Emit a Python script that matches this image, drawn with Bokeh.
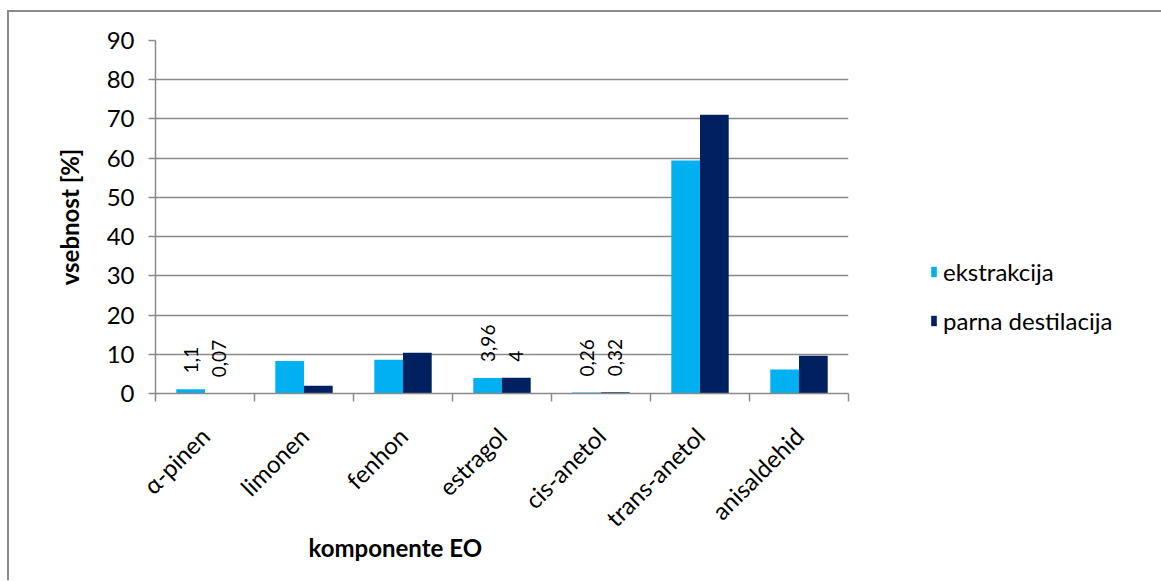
import math
from bokeh.plotting import figure
from bokeh.models import ColumnDataSource, Range1d, FixedTicker, Legend, LegendItem, Title
from bokeh.core.properties import value
from bokeh.embed import file_html
from bokeh.resources import INLINE

categories = ["α-pinen", "limonen", "fenhon", "estragol", "cis-anetol", "trans-anetol", "anisaldehid"]
ekstrakcija = [1.1, 8.3, 8.6, 3.96, 0.26, 59.4, 6.1]
parna_destilacija = [0.07, 2.0, 10.4, 4.0, 0.32, 71.1, 9.6]
label_shown = [True, False, False, True, True, False, False]
series_names = ["ekstrakcija", "parna destilacija"]
y_ticks = [0, 10, 20, 30, 40, 50, 60, 70, 80, 90]

FONT = "Lato"
C1 = "#00B0F0"
C2 = "#002060"
GRAY = "#8a8a8a"
BW = 0.29

n = len(categories)
centers = [i + 0.5 for i in range(n)]

src = ColumnDataSource(dict(
    x1=[c - BW / 2 for c in centers],
    x2=[c + BW / 2 for c in centers],
    e=ekstrakcija,
    d=parna_destilacija,
))

lx, ly, lt = [], [], []
for i in range(n):
    if label_shown[i]:
        lx += [centers[i] - BW / 2, centers[i] + BW / 2]
        ly += [ekstrakcija[i], parna_destilacija[i]]
        lt += [f"{ekstrakcija[i]:g}".replace(".", ","), f"{parna_destilacija[i]:g}".replace(".", ",")]
lsrc = ColumnDataSource(dict(x=lx, y=ly, t=lt))

p = figure(
    frame_width=693, frame_height=353,
    x_range=Range1d(0, n), y_range=Range1d(0, 90),
    output_backend="svg", toolbar_location=None,
    min_border_left=146, min_border_top=28, min_border_right=313, min_border_bottom=187,
)
p.margin = (10, 0, 0, 7)
p.styles = {"border-left": f"2px solid {GRAY}", "border-top": f"2px solid {GRAY}"}
p.outline_line_color = None
p.background_fill_color = "white"
p.border_fill_color = "white"

r1 = p.vbar(x="x1", top="e", width=BW, source=src, fill_color=C1, line_color=None)
r2 = p.vbar(x="x2", top="d", width=BW, source=src, fill_color=C2, line_color=None)

p.text(x="x", y="y", text="t", source=lsrc, angle=math.pi / 2, text_align="left",
       text_baseline="middle", y_offset=-16, text_font=value(FONT),
       text_font_size="19px", text_color="black")

# grid
p.xgrid.grid_line_color = None
p.ygrid.grid_line_color = GRAY
p.ygrid.grid_line_width = 1.5
p.ygrid.ticker = FixedTicker(ticks=y_ticks)

# y axis
ya = p.yaxis[0]
ya.ticker = FixedTicker(ticks=y_ticks)
ya.axis_line_color = GRAY
ya.axis_line_width = 1.5
ya.major_tick_line_color = GRAY
ya.major_tick_line_width = 1.5
ya.major_tick_out = 7
ya.major_tick_in = 0
ya.minor_tick_line_color = None
ya.major_label_standoff = 14
ya.major_label_text_font = FONT
ya.major_label_text_font_size = "24px"
ya.major_label_text_color = "black"
ya.axis_label = "vsebnost [%]"
ya.axis_label_text_font = FONT
ya.axis_label_text_font_size = "24px"
ya.axis_label_text_font_style = "bold"
ya.axis_label_text_color = "black"
ya.axis_label_standoff = 20

# x axis
xa = p.xaxis[0]
xa.ticker = FixedTicker(ticks=centers, minor_ticks=list(range(n + 1)))
xa.major_label_overrides = {c: categories[i] for i, c in enumerate(centers)}
xa.major_label_orientation = math.pi / 4
xa.axis_line_color = GRAY
xa.axis_line_width = 1.5
xa.major_tick_line_color = None
xa.major_tick_out = 0
xa.major_tick_in = 0
xa.minor_tick_line_color = GRAY
xa.minor_tick_line_width = 1.5
xa.minor_tick_out = 8
xa.minor_tick_in = 0
xa.major_label_standoff = 30
xa.major_label_text_font = FONT
xa.major_label_text_font_size = "24px"
xa.major_label_text_color = "black"

p.add_layout(Title(text="komponente EO", align="left", offset=153, standoff=-30,
                   text_font=FONT, text_font_size="24px", text_font_style="bold",
                   text_color="black"), "below")

legend = Legend(items=[LegendItem(label=series_names[0], renderers=[r1]),
                       LegendItem(label=series_names[1], renderers=[r2])],
                location=(82, 58))
legend.border_line_color = None
legend.background_fill_alpha = 0
legend.padding = 0
legend.margin = 0
legend.spacing = 19
legend.label_height = 30
legend.glyph_width = 7
legend.glyph_height = 13
legend.label_standoff = 6
legend.label_text_font = FONT
legend.label_text_font_size = "24px"
legend.label_text_color = "black"
p.add_layout(legend, "right")

open("out.html", "w").write(file_html(p, INLINE))
